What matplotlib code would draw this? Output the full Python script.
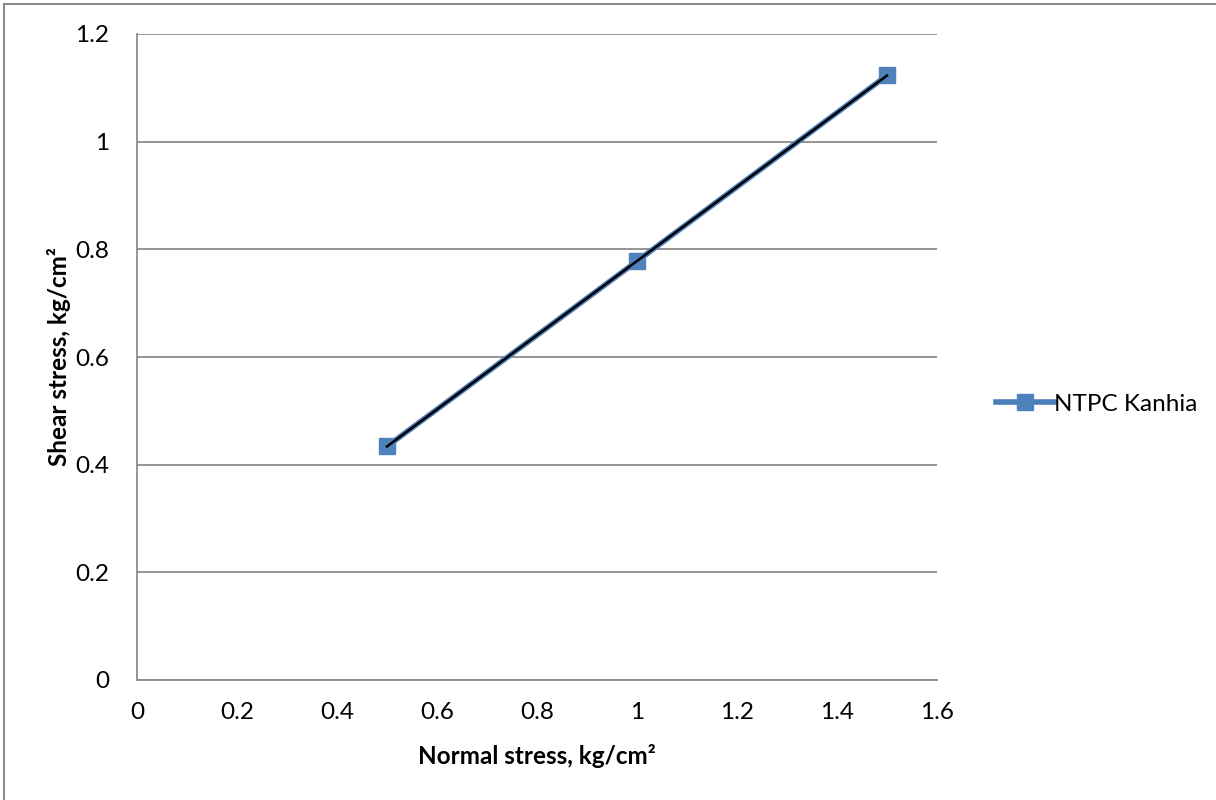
import matplotlib
matplotlib.use("Agg")
import matplotlib.pyplot as plt
import numpy as np
from matplotlib.lines import Line2D

normal_stress = [0.5, 1.0, 1.5]
shear_stress = [0.434, 0.778, 1.123]
series_name = "NTPC Kanhia"
x_ticks = [0, 0.2, 0.4, 0.6, 0.8, 1.0, 1.2, 1.4, 1.6]
x_labels = ["0", "0.2", "0.4", "0.6", "0.8", "1", "1.2", "1.4", "1.6"]
y_ticks = [0, 0.2, 0.4, 0.6, 0.8, 1.0, 1.2]
y_labels = ["0", "0.2", "0.4", "0.6", "0.8", "1", "1.2"]

plt.rcParams['font.family'] = ['Lato', 'DejaVu Sans']

fig = plt.figure(figsize=(12.16, 8), dpi=100)
ax = fig.add_axes([137/1216, 1 - 680/800, 800/1216, 646/800])

blue = "#4a7ebb"
ax.plot(normal_stress, shear_stress, color=blue, lw=4, marker='s', ms=11,
        markerfacecolor="#4f81bd", markeredgecolor="#4f81bd", zorder=3, label=series_name)
coef = np.polyfit(normal_stress, shear_stress, 1)
xs = np.array([normal_stress[0], normal_stress[-1]])
ax.plot(xs, np.polyval(coef, xs), color="black", lw=1.8, zorder=4)

ax.set_xlim(0, 1.6)
ax.set_ylim(0, 1.2)
ax.set_xticks(x_ticks)
ax.set_xticklabels(x_labels)
ax.set_yticks(y_ticks)
ax.set_yticklabels(y_labels)
ax.tick_params(axis='x', length=0, labelsize=17.5, pad=16)
ax.tick_params(axis='y', length=0, labelsize=17.5, pad=20)
ax.yaxis.grid(True, color="#8c8c8c", lw=1.3)
ax.set_axisbelow(True)
for s in ['top', 'right']:
    ax.spines[s].set_visible(False)
for s in ['left', 'bottom']:
    ax.spines[s].set_color("#8c8c8c")
    ax.spines[s].set_linewidth(1.3)

ax.set_xlabel("Normal stress, kg/cm²", fontsize=17.5, fontweight='bold', labelpad=15)
ax.set_ylabel("Shear stress, kg/cm²", fontsize=17.5, fontweight='bold', labelpad=3)

handle = Line2D([0], [0], color=blue, lw=4, marker='s', ms=11,
                markerfacecolor="#4f81bd", markeredgecolor="#4f81bd")
fig.legend([handle], [series_name], loc='center left', bbox_to_anchor=(984/1216, 1 - 404/800),
           frameon=False, fontsize=17.5, handlelength=2.4, handletextpad=0.0, borderpad=0)

# outer chart border (top and left visible)
fig.add_artist(Line2D([4/1216, 4/1216], [0, 1 - 4/800], color="#8c8c8c", lw=1.5, transform=fig.transFigure))
fig.add_artist(Line2D([4/1216, 1], [1 - 4/800, 1 - 4/800], color="#8c8c8c", lw=1.5, transform=fig.transFigure))

fig.savefig("out.png", dpi=100, facecolor="white")
